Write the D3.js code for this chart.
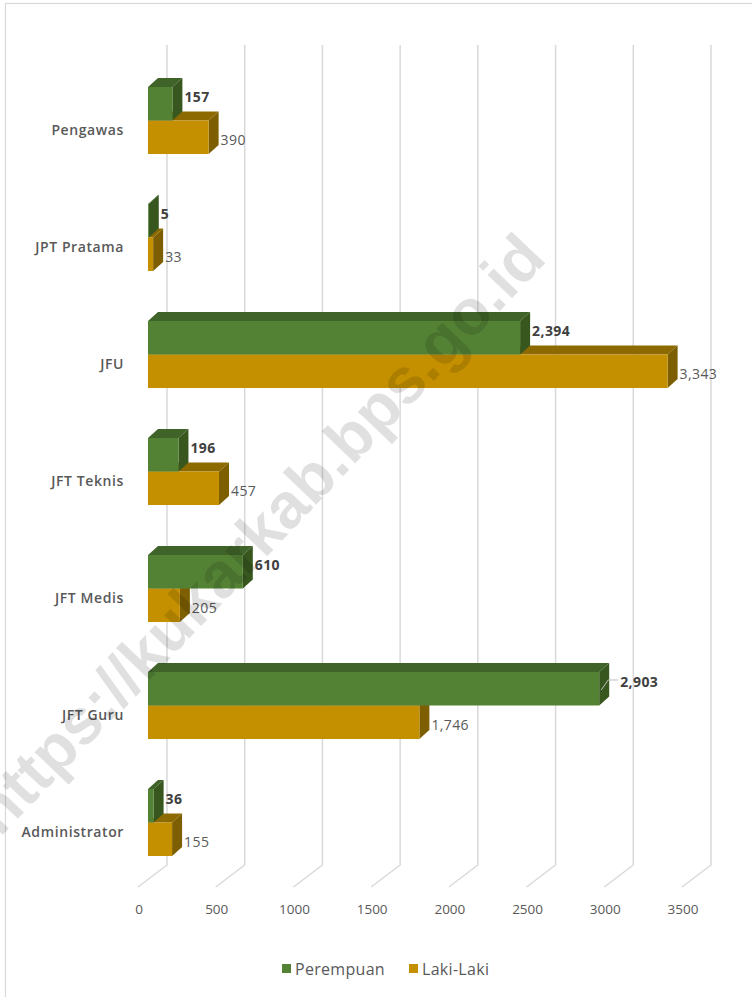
<!DOCTYPE html>
<html>
<head>
<meta charset="utf-8">
<script src="https://cdn.jsdelivr.net/npm/d3@7"></script>
<style>
  html, body { margin: 0; padding: 0; background: #fff; }
  svg { display: block; }
</style>
</head>
<body>
<svg id="chart" width="752" height="997"></svg>
<script>
// ---- data ----
const categories = ["Administrator", "JFT Guru", "JFT Medis", "JFT Teknis", "JFU", "JPT Pratama", "Pengawas"];
const perempuan = [36, 2903, 610, 196, 2394, 5, 157];
const lakiLaki  = [155, 1746, 205, 457, 3343, 33, 390];
const tickValues = [0, 500, 1000, 1500, 2000, 2500, 3000, 3500];
const seriesNames = ["Perempuan", "Laki-Laki"];
const watermarkText = "https://kukarkab.bps.go.id";

// ---- layout ----
const svg = d3.select("#chart");
const frontX = 148;      // front plane of bars (value 0)
const backX = 167;       // back wall (value 0)
const floorX = 138;      // front floor edge (value 0)
const gridTop = 45, gridBottom = 865, floorY = 887;
const dx = 10, dy = -9;  // bar depth offset

const x = d3.scaleLinear().domain([0, 3500]).range([0, 544]);
const y = d3.scaleBand()
  .domain(categories.slice().reverse())
  .range([62, 881])
  .paddingInner(0.427)
  .paddingOuter(0.2135);

const colors = {
  green: { front: "#548235", top: "#3f6328", side: "#37571f" },
  gold:  { front: "#c49000", top: "#8d6a00", side: "#7d5e00" }
};

// border
svg.append("rect").attr("x", 5.5).attr("y", 3.5).attr("width", 800).attr("height", 1100)
  .attr("fill", "none").attr("stroke", "#d9d9d9").attr("stroke-width", 1.2);

// gridlines (back wall + floor slant)
const grid = svg.append("g");
tickValues.forEach(v => {
  const bx = backX + x(v), fx = floorX + x(v);
  grid.append("path")
    .attr("d", `M${bx},${gridTop} L${bx},${gridBottom} L${fx},${floorY}`)
    .attr("fill", "none").attr("stroke", "#d9d9d9").attr("stroke-width", 1.5);
});

// tick labels
svg.append("g").selectAll("text").data(tickValues).join("text")
  .attr("x", v => floorX + x(v) + 1)
  .attr("y", 909)
  .attr("text-anchor", "middle")
  .attr("dominant-baseline", "central")
  .attr("font-family", "'Open Sans', sans-serif")
  .attr("font-size", 13.5)
  .attr("fill", "#595959")
  .text(v => v);

// category labels
svg.append("g").selectAll("text").data(categories).join("text")
  .attr("x", 124)
  .attr("y", c => y(c) + y.bandwidth() / 2 + 9)
  .attr("text-anchor", "end")
  .attr("dominant-baseline", "central")
  .attr("font-family", "'Open Sans', sans-serif")
  .attr("font-weight", 600)
  .attr("font-size", 14)
  .attr("letter-spacing", 0.6)
  .attr("fill", "#595959")
  .text(c => c);

// 3D bars
function bar3d(g, x0, x1, top, h, col) {
  g.append("polygon")
    .attr("points", [[x0, top], [x0 + dx, top + dy], [x1 + dx, top + dy], [x1, top]].join(" "))
    .attr("fill", col.top);
  g.append("polygon")
    .attr("points", [[x1, top], [x1 + dx, top + dy], [x1 + dx, top + h + dy], [x1, top + h]].join(" "))
    .attr("fill", col.side);
  g.append("rect").attr("x", x0).attr("y", top).attr("width", Math.max(0, x1 - x0)).attr("height", h)
    .attr("fill", col.front);
}

const bars = svg.append("g");
const labels = svg.append("g")
  .attr("font-family", "'Open Sans', sans-serif")
  .attr("font-size", 14)
  .attr("letter-spacing", 0.4)
  .attr("fill", "#404040");
const half = y.bandwidth() / 2;
const maxGreen = d3.max(perempuan);

categories.forEach((c, i) => {
  const top = y(c);
  const g = bars.append("g");
  // Laki-Laki (bottom)
  const xl = frontX + x(lakiLaki[i]);
  bar3d(g, frontX, xl, top + half, half, colors.gold);
  // Perempuan (top)
  const xp = frontX + x(perempuan[i]);
  bar3d(g, frontX, xp, top, half, colors.green);

  // labels
  labels.append("text")
    .attr("x", xl + dx + 2)
    .attr("y", top + half + half / 2 + 2)
    .attr("dominant-baseline", "central")
    .attr("fill", "#595959")
    .text(d3.format(",")(lakiLaki[i]));

  const isMax = perempuan[i] === maxGreen;
  const lx = isMax ? xp + dx + 11 : xp + dx + 2;
  const ly = top + 10;
  if (isMax) {
    labels.append("path")
      .attr("d", `M${xp + 2},${top + 18} L${xp + dx - 1},${ly - 2} L${lx - 2},${ly - 2}`)
      .attr("fill", "none").attr("stroke", "#bfbfbf").attr("stroke-width", 1);
  }
  labels.append("text")
    .attr("x", lx)
    .attr("y", ly)
    .attr("dominant-baseline", "central")
    .attr("font-weight", 700)
    .text(d3.format(",")(perempuan[i]));
});

// legend
const legend = svg.append("g")
  .attr("font-family", "'Open Sans', sans-serif")
  .attr("font-size", 16)
  .attr("letter-spacing", 0.3)
  .attr("fill", "#595959");
const legendItems = [
  { name: seriesNames[0], color: colors.green.front, x: 282 },
  { name: seriesNames[1], color: colors.gold.front, x: 409 }
];
legendItems.forEach(d => {
  legend.append("rect").attr("x", d.x).attr("y", 964).attr("width", 9).attr("height", 9).attr("fill", d.color);
  legend.append("text").attr("x", d.x + 13).attr("y", 969).attr("dominant-baseline", "central").text(d.name);
});

// watermark
svg.append("text")
  .attr("transform", "translate(258,534) rotate(-46.5)")
  .attr("text-anchor", "middle")
  .attr("dominant-baseline", "central")
  .attr("font-family", "'Liberation Sans', Arial, sans-serif")
  .attr("font-weight", 700)
  .attr("font-size", 64)
  .attr("fill", "#000")
  .attr("fill-opacity", 0.12)
  .text(watermarkText);
</script>
</body>
</html>
